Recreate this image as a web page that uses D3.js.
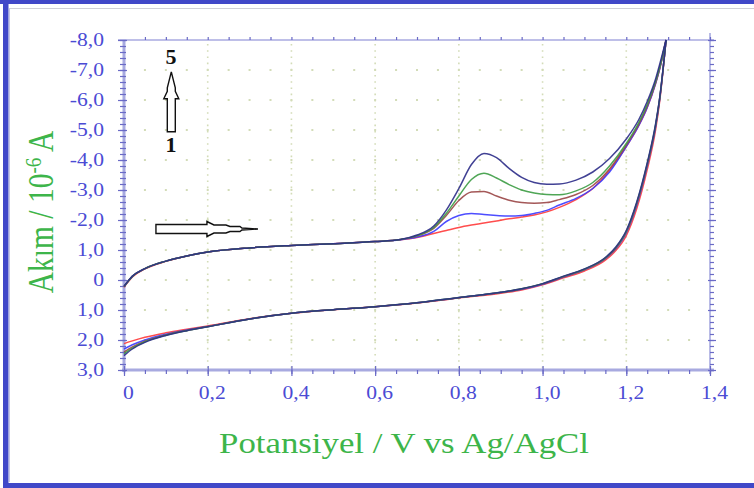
<!DOCTYPE html>
<html>
<head>
<meta charset="utf-8">
<script src="https://cdn.jsdelivr.net/npm/d3@7"></script>
<style>
  html, body { margin: 0; padding: 0; background: #ffffff; }
  svg { display: block; }
</style>
</head>
<body>
<svg id="chart" width="754" height="488"></svg>
<script>
// Potential grid (V vs Ag/AgCl) for the anodic (forward) and cathodic (return) sweeps
const potentialForward = [0, 0.02, 0.05, 0.1, 0.15, 0.2, 0.3, 0.4, 0.5, 0.6, 0.66, 0.7, 0.74, 0.77, 0.8, 0.83, 0.86, 0.89, 0.92, 0.95, 0.98, 1.01, 1.04, 1.08, 1.12, 1.16, 1.2, 1.23, 1.25, 1.27, 1.28, 1.295];
const potentialReturn = [0, 0.02, 0.05, 0.1, 0.15, 0.2, 0.3, 0.4, 0.5, 0.6, 0.7, 0.8, 0.9, 0.95, 1.0, 1.05, 1.1, 1.15, 1.175, 1.2, 1.225, 1.25, 1.27, 1.28, 1.295];

// Current (10^-6 A) for cycles 1..5, forward sweep
const cycle1Forward = [0.24, -0.1, -0.37, -0.62, -0.8, -0.93, -1.07, -1.15, -1.21, -1.28, -1.34, -1.42, -1.55, -1.65, -1.75, -1.83, -1.9, -1.97, -2.04, -2.1, -2.17, -2.27, -2.42, -2.68, -3.05, -3.65, -4.45, -5.15, -5.75, -6.55, -7.05, -8];
const cycle2Forward = [0.22, -0.12, -0.38, -0.63, -0.8, -0.93, -1.07, -1.15, -1.21, -1.28, -1.34, -1.43, -1.62, -1.95, -2.15, -2.22, -2.18, -2.15, -2.13, -2.15, -2.22, -2.32, -2.5, -2.72, -3.05, -3.6, -4.45, -5.15, -5.75, -6.55, -7.05, -8];
const cycle3Forward = [0.22, -0.12, -0.38, -0.63, -0.8, -0.93, -1.07, -1.15, -1.21, -1.28, -1.35, -1.47, -1.72, -2.15, -2.65, -2.93, -2.95, -2.8, -2.66, -2.58, -2.56, -2.58, -2.68, -2.85, -3.15, -3.7, -4.5, -5.2, -5.8, -6.58, -7.08, -8];
const cycle4Forward = [0.22, -0.12, -0.38, -0.63, -0.8, -0.93, -1.07, -1.15, -1.21, -1.28, -1.35, -1.48, -1.75, -2.22, -2.8, -3.35, -3.56, -3.4, -3.18, -3.0, -2.9, -2.85, -2.84, -2.97, -3.25, -3.8, -4.55, -5.25, -5.85, -6.62, -7.1, -8];
const cycle5Forward = [0.21, -0.13, -0.38, -0.63, -0.8, -0.93, -1.07, -1.15, -1.21, -1.28, -1.35, -1.5, -1.8, -2.33, -3.05, -3.85, -4.22, -4.08, -3.72, -3.42, -3.25, -3.19, -3.2, -3.33, -3.6, -4.05, -4.7, -5.35, -5.95, -6.7, -7.2, -8];

// Current (10^-6 A) for cycles 1..5, return sweep
const cycle1Return = [2.12, 2.03, 1.91, 1.76, 1.64, 1.53, 1.29, 1.11, 0.99, 0.89, 0.77, 0.6, 0.44, 0.33, 0.16, -0.07, -0.3, -0.66, -0.98, -1.48, -2.38, -3.68, -5.0, -5.98, -8];
const cycle2Return = [2.3, 2.16, 2.0, 1.81, 1.67, 1.55, 1.3, 1.11, 0.99, 0.89, 0.76, 0.59, 0.42, 0.31, 0.14, -0.1, -0.34, -0.71, -1.04, -1.57, -2.5, -3.8, -5.1, -6.04, -8];
const cycle3Return = [2.4, 2.23, 2.04, 1.83, 1.68, 1.55, 1.3, 1.11, 0.99, 0.89, 0.76, 0.59, 0.42, 0.3, 0.13, -0.11, -0.35, -0.72, -1.06, -1.6, -2.54, -3.84, -5.14, -6.06, -8];
const cycle4Return = [2.46, 2.27, 2.06, 1.84, 1.69, 1.56, 1.3, 1.11, 0.99, 0.89, 0.76, 0.58, 0.41, 0.29, 0.12, -0.12, -0.36, -0.74, -1.08, -1.62, -2.57, -3.87, -5.17, -6.08, -8];
const cycle5Return = [2.52, 2.3, 2.08, 1.85, 1.69, 1.56, 1.3, 1.11, 0.99, 0.89, 0.76, 0.58, 0.41, 0.29, 0.12, -0.13, -0.37, -0.75, -1.1, -1.65, -2.6, -3.9, -5.2, -6.1, -8];

const cycleColors = ["#ff3a3a", "#3a3aff", "#9a4646", "#3c9c44", "#2c2c88"];

// Axis ticks and labels
const xTicks = [0, 0.2, 0.4, 0.6, 0.8, 1.0, 1.2, 1.4];
const xLabels = ["0", "0,2", "0,4", "0,6", "0,8", "1,0", "1,2", "1,4"];
const yTicks = [-8, -7, -6, -5, -4, -3, -2, -1, 0, 1, 2, 3];
const yLabels = ["-8,0", "-7,0", "-6,0", "-5,0", "-4,0", "-3,0", "-2,0", "1,0", "0", "1,0", "2,0", "3,0"];

const svg = d3.select("#chart");
const W = 754, H = 488;
const serif = "Liberation Serif";
const stretch = 1.2; // text is drawn slightly wide

// Page frame
svg.append("rect").attr("x", 0).attr("y", 0).attr("width", W).attr("height", H).attr("fill", "#ffffff");
svg.append("line").attr("x1", 9.5).attr("x2", 9.5).attr("y1", 8).attr("y2", 482).attr("stroke", "#c4c6e4").attr("stroke-width", 1);
svg.append("line").attr("x1", 9).attr("x2", W).attr("y1", 8.5).attr("y2", 8.5).attr("stroke", "#d0d0d8").attr("stroke-width", 1);
svg.append("rect").attr("x", 0).attr("y", 0).attr("width", W).attr("height", 4).attr("fill", "#4048c8");
svg.append("rect").attr("x", 3).attr("y", 0).attr("width", 5.5).attr("height", H).attr("fill", "#4048c8");
svg.append("rect").attr("x", 3).attr("y", 483).attr("width", W).attr("height", 5).attr("fill", "#4048c8");

const x = d3.scaleLinear().domain([0, 1.4]).range([124, 710]);
const y = d3.scaleLinear().domain([-8, 3]).range([40, 370]);

// Dotted grid: vertical dotted lines at major potentials, dot rows at major currents
const grid = svg.append("g");
xTicks.slice(1, -1).forEach(v => {
  grid.append("line")
    .attr("x1", x(v)).attr("x2", x(v)).attr("y1", y(-8) + 4).attr("y2", y(3) - 2)
    .attr("stroke", "#d3dcb8").attr("stroke-width", 1.6).attr("stroke-dasharray", "1.6,4.6");
});
const dotX = d3.range(1, 28).map(i => i * 0.05);
yTicks.slice(1, -1).forEach(v => {
  grid.selectAll(null).data(dotX).enter().append("rect")
    .attr("x", d => x(d) - 1).attr("y", y(v) - 1).attr("width", 2).attr("height", 2)
    .attr("fill", "#d3dcb8");
});

const axisColor = "#6a6ac6";
const bandColor = "#a8aae0";
const labelColor = "#4b4bd4";

// Axis lines (thick bands)
svg.append("line").attr("x1", x(0)).attr("x2", x(0)).attr("y1", y(-8)).attr("y2", y(3) + 2).attr("stroke", bandColor).attr("stroke-width", 3);
svg.append("line").attr("x1", x(0) - 2).attr("x2", x(1.4) + 4).attr("y1", y(3)).attr("y2", y(3)).attr("stroke", bandColor).attr("stroke-width", 3);
svg.append("line").attr("x1", x(0) - 6).attr("x2", x(1.4) + 4).attr("y1", y(-8)).attr("y2", y(-8)).attr("stroke", bandColor).attr("stroke-width", 1.6);
svg.append("line").attr("x1", x(1.4)).attr("x2", x(1.4)).attr("y1", y(-8) - 7).attr("y2", y(3) + 4).attr("stroke", bandColor).attr("stroke-width", 1.6);

function styleAxis(g) {
  g.select(".domain").remove();
  g.selectAll(".tick line").attr("stroke", axisColor).attr("stroke-width", 1.2);
}

// Left axis: minor and major ticks, labels
svg.append("g").attr("transform", `translate(${x(0)},0)`)
  .call(d3.axisLeft(y).tickValues(d3.range(-8, 3.001, 0.2)).tickSize(4).tickFormat(""))
  .call(styleAxis)
  .call(g => g.selectAll(".tick line").attr("x1", 2));
svg.append("g").attr("transform", `translate(${x(0)},0)`)
  .call(d3.axisLeft(y).tickValues(yTicks).tickFormat((d, i) => yLabels[i]).tickSize(6).tickPadding(14))
  .call(styleAxis)
  .call(g => g.selectAll(".tick line").attr("x1", 3))
  .call(g => g.selectAll("text").attr("fill", labelColor)
    .attr("x", -20 / stretch).attr("transform", `scale(${stretch},1)`)
    .attr("font-family", serif).attr("font-size", 18));

// Bottom axis
svg.append("g").attr("transform", `translate(0,${y(3)})`)
  .call(d3.axisBottom(x).tickValues(d3.range(0, 1.401, 0.05)).tickSize(4).tickFormat(""))
  .call(styleAxis);
svg.append("g").attr("transform", `translate(0,${y(3)})`)
  .call(d3.axisBottom(x).tickValues(xTicks).tickFormat((d, i) => xLabels[i]).tickSize(6).tickPadding(10))
  .call(styleAxis)
  .call(g => g.selectAll(".tick line").attr("y1", -4))
  .call(g => g.selectAll("text").attr("fill", labelColor)
    .attr("dx", 4 / stretch).attr("transform", `scale(${stretch},1)`)
    .attr("font-family", serif).attr("font-size", 18));

// Top and right frame ticks
svg.append("g").attr("transform", `translate(0,${y(-8)})`)
  .call(d3.axisTop(x).tickValues(d3.range(0.05, 1.401, 0.05)).tickSize(3).tickFormat(""))
  .call(styleAxis);
svg.append("g").attr("transform", `translate(${x(1.4)},0)`)
  .call(d3.axisRight(y).tickValues(d3.range(-8, 3.001, 0.2)).tickSize(4).tickFormat(""))
  .call(styleAxis);
svg.append("g").attr("transform", `translate(${x(1.4)},0)`)
  .call(d3.axisRight(y).tickValues(yTicks).tickSize(6).tickFormat(""))
  .call(styleAxis)
  .call(g => g.selectAll(".tick line").attr("x1", -2));

// Voltammogram curves
const line = d3.line().x(d => x(d[0])).y(d => y(d[1])).curve(d3.curveMonotoneX);
const forwardSets = [cycle1Forward, cycle2Forward, cycle3Forward, cycle4Forward, cycle5Forward];
const returnSets = [cycle1Return, cycle2Return, cycle3Return, cycle4Return, cycle5Return];
const curves = svg.append("g").attr("fill", "none").attr("stroke-linejoin", "round");
forwardSets.forEach((vals, i) => {
  curves.append("path").datum(potentialForward.map((v, k) => [v, vals[k]]))
    .attr("d", line).attr("stroke", cycleColors[i]).attr("stroke-width", 1.5).attr("stroke-opacity", 0.9);
  curves.append("path").datum(potentialReturn.map((v, k) => [v, returnSets[i][k]]))
    .attr("d", line).attr("stroke", cycleColors[i]).attr("stroke-width", 1.5).attr("stroke-opacity", 0.9);
});

// Annotations: scan direction and cycle order arrows
const ann = svg.append("g").attr("fill", "#ffffff").attr("stroke", "#111111").attr("stroke-width", 1.4).attr("stroke-linejoin", "miter");
const vArrow = [[-4, 60], [-4, 27], [-7.5, 27], [-4, 19.5], [-4, 16], [-2.5, 10], [-2, 8], [0, 0], [2, 8], [2.5, 10], [4, 16], [4, 19.5], [7.5, 27], [4, 27], [4, 60]];
ann.append("path").attr("transform", `translate(${x(0.113)},${y(-6.94)})`)
  .attr("d", d3.line()(vArrow) + "Z");
const hArrow = [[-102, -4.5], [-51, -4.5], [-51, -7.5], [-44, -4], [-32, -4], [-28, -2.5], [-18, -2.5], [-16, -1], [0, 0], [-16, 1], [-18, 2.5], [-28, 2.5], [-32, 4], [-44, 4], [-51, 7.5], [-51, 4.5], [-102, 4.5]];
ann.append("path").attr("transform", `translate(${x(0.32)},${y(-1.7)})`)
  .attr("d", d3.line()(hArrow) + "Z");

svg.append("text").attr("x", x(0.112)).attr("y", y(-7.2)).attr("text-anchor", "middle")
  .attr("font-family", serif).attr("font-size", 22).attr("font-weight", "bold").attr("fill", "#111").text("5");
svg.append("text").attr("x", x(0.112)).attr("y", y(-4.27)).attr("text-anchor", "middle")
  .attr("font-family", serif).attr("font-size", 22).attr("font-weight", "bold").attr("fill", "#111").text("1");

// Axis titles
const titleColor = "#3db54a";
svg.append("text").attr("transform", `translate(404,453) scale(${stretch},1)`).attr("text-anchor", "middle")
  .attr("font-family", serif).attr("font-size", 29).attr("fill", titleColor)
  .text("Potansiyel / V vs Ag/AgCl");
const yt = svg.append("text").attr("transform", `translate(53,212) scale(${stretch},1) rotate(-90)`).attr("text-anchor", "middle")
  .attr("font-family", serif).attr("font-size", 29.5).attr("fill", titleColor);
yt.append("tspan").text("Akım / 10");
yt.append("tspan").attr("dy", -10).attr("font-size", 19).text("-6");
yt.append("tspan").attr("dy", 10).text(" A");
</script>
</body>
</html>
